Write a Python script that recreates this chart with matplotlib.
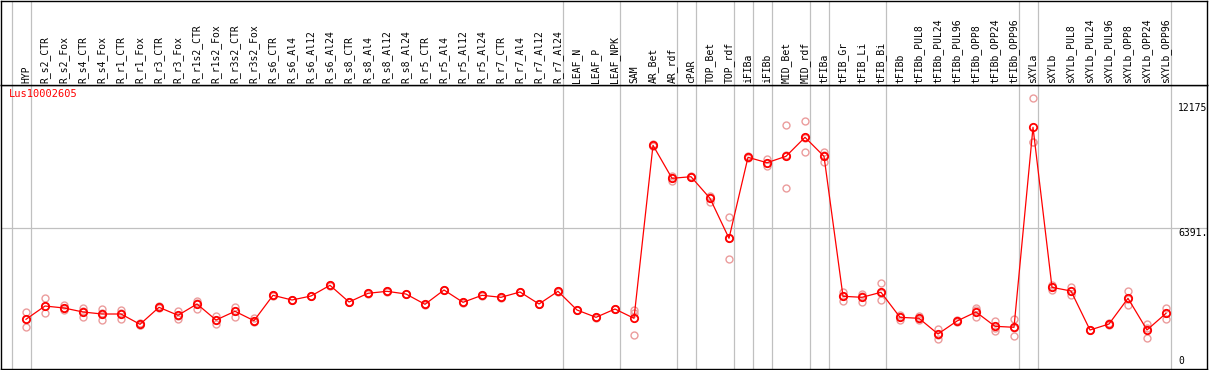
import numpy as np
import matplotlib
matplotlib.use('Agg')
import matplotlib.pyplot as plt
import matplotlib.transforms as mtransforms

#donnees
gene = "Lus10002605"

samples = ['HYP', 'R_s2_CTR', 'R_s2_Fox', 'R_s4_CTR', 'R_s4_Fox', 'R_r1_CTR', 'R_r1_Fox',
           'R_r3_CTR', 'R_r3_Fox', 'R_r1s2_CTR', 'R_r1s2_Fox', 'R_r3s2_CTR', 'R_r3s2_Fox',
           'R_s6_CTR', 'R_s6_Al4', 'R_s6_Al12', 'R_s6_Al24', 'R_s8_CTR', 'R_s8_Al4', 'R_s8_Al12',
           'R_s8_Al24', 'R_r5_CTR', 'R_r5_Al4', 'R_r5_Al12', 'R_r5_Al24', 'R_r7_CTR', 'R_r7_Al4',
           'R_r7_Al12', 'R_r7_Al24', 'LEAF_N', 'LEAF_P', 'LEAF_NPK', 'SAM', 'AR_Bet', 'AR_rdf',
           'cPAR', 'TOP_Bet', 'TOP_rdf', 'iFIBa', 'iFIBb', 'MID_Bet', 'MID_rdf', 'tFIBa',
           'tFIB_Gr', 'tFIB_Li', 'tFIB_Bi', 'tFIBb', 'tFIBb_PUL8', 'tFIBb_PUL24', 'tFIBb_PUL96',
           'tFIBb_OPP8', 'tFIBb_OPP24', 'tFIBb_OPP96', 'sXYLa', 'sXYLb', 'sXYLb_PUL8',
           'sXYLb_PUL24', 'sXYLb_PUL96', 'sXYLb_OPP8', 'sXYLb_OPP24', 'sXYLb_OPP96']

means = [2161, 2776, 2684, 2499, 2406, 2406, 1929, 2716, 2346, 2869, 2128, 2531, 2096,
         3271, 3054, 3239, 3734, 2961, 3364, 3456, 3331, 2855, 3517, 2947, 3271, 3179, 3424,
         2869, 3456, 2591, 2253, 2637, 2207, 10212, 8685, 8759, 7759, 5909, 9657, 9407, 9703,
         10582, 9703, 3225, 3179, 3410, 2253, 2207, 1481, 2082, 2499, 1837, 1791, 11045, 3641,
         3470, 1666, 1943, 3132, 1666, 2438]

rep1 = [2513, 3132, 2822, 2684, 2637, 2591, 1990, 2776, 2559, 3021, 2313, 2744, 2198,
        3290, 3070, 3255, 3750, 2980, 3380, 3470, 3350, 2870, 3530, 2965, 3290, 3195, 3440,
        2885, 3470, 2605, 2270, 2650, 2591, 10250, 8791, 8780, 7866, 6880, 9700, 9592, 11137,
        11322, 9916, 3424, 3331, 3826, 2346, 2313, 1726, 2050, 2670, 2096, 2189, 12387, 3748,
        3669, 1680, 2004, 3470, 1929, 2684]

rep2 = [1791, 2438, 2591, 2253, 2115, 2189, 1897, 2684, 2161, 2637, 1943, 2281, 2013,
        3250, 3040, 3220, 3715, 2945, 3345, 3440, 3315, 2840, 3500, 2930, 3255, 3160, 3405,
        2850, 3440, 2575, 2235, 2620, 2466, 10180, 8574, 8740, 7588, 4937, 9620, 9254, 8222,
        9888, 9425, 3021, 2961, 3040, 2142, 2128, 1263, 2110, 2253, 1633, 1402, 10378, 3517,
        3271, 1650, 1900, 2809, 1309, 2189]

rep3 = [2174, 2776, 2684, 2545, 2452, 2452, 1920, 2707, 2313, 2938, 2128, 2568, 2082,
        3271, 3054, 3239, 3734, 2961, 3364, 3456, 3331, 2855, 3517, 2947, 3271, 3179, 3424,
        2869, 3456, 2591, 2253, 2637, 1420, 10200, 8690, 8759, 7800, 5909, 9650, 9380, 9750,
        10540, 9760, 3230, 3240, 3360, 2270, 2180, 1450, 2090, 2570, 1780, 1780, 10370, 3660,
        3470, 1666, 1930, 3110, 1760, 2440]

# separateurs de groupes (apres l'indice)
separateurs = [-1, 0, 28, 31, 34, 35, 37, 38, 39, 41, 42, 45, 52, 53, 60]

ytick_vals = [0, 6391, 12175]
ytick_labels = ['0', '6391.', '12175']
ytick_va = ['bottom', 'top', 'top']

#figure
W, H = 1209, 370
fig = plt.figure(figsize=(W / 100, H / 100), dpi=100)
plt.rcParams['font.family'] = 'DejaVu Sans Mono'

xmin = -25 / 19
xmax = xmin + 1206 / 19
ymax = 281 / 0.021611
ymin = ymax - 284 / 0.021611

ax = fig.add_axes([1 / W, 1 / H, 1206 / W, 284 / H])
axl = fig.add_axes([1 / W, 285 / H, 1206 / W, 84 / H])

for a in (ax, axl):
    a.set_xlim(xmin, xmax)
    a.set_xticks([])
    a.set_yticks([])
    for s in a.spines.values():
        s.set_linewidth(1.0)
        s.set_color('black')
    for sep in separateurs:
        a.axvline(sep + 0.25, color='#c0c0c0', lw=0.9, zorder=0)

ax.set_ylim(ymin, ymax)
axl.set_ylim(0, 1)

ax.axhline(6391, color='#c0c0c0', lw=0.9, zorder=0)

x = np.arange(len(samples))
for r in (rep1, rep2, rep3):
    ax.plot(x, r, 'o', ms=5, mfc='none', mec='#eb9c9c', mew=1, zorder=2)
ax.plot(x, means, '-', color='red', lw=0.9, zorder=3)
ax.plot(x, means, 'o', ms=5.3, mfc='none', mec='red', mew=1.3, zorder=4)

#labels echantillons
for i, lab in enumerate(samples):
    axl.text(i, 0.025, lab, rotation=90, ha='center', va='bottom', fontsize=7, color='black')

#etiquettes axe y a droite
tr = mtransforms.blended_transform_factory(ax.transAxes, ax.transData)
for v, lab, va in zip(ytick_vals, ytick_labels, ytick_va):
    ax.text(1177 / 1206, v, lab, transform=tr, ha='left', va=va, fontsize=7)

ax.text(8 / 1206, 0.985, gene, transform=ax.transAxes, ha='left', va='top', fontsize=7.5, color='red')

fig.savefig('out.png', dpi=100)
